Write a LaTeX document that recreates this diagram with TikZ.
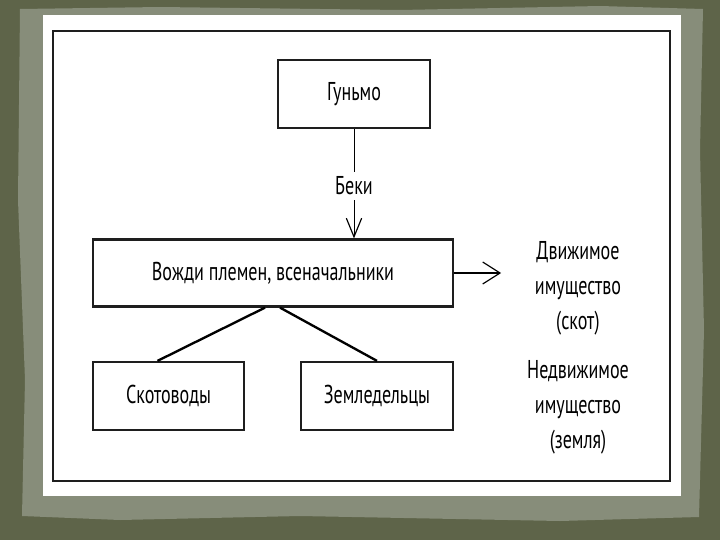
\documentclass[tikz,border=0pt]{standalone}
\usepackage{fontspec}
\setmainfont{PT Sans}[FakeStretch=0.70]
\usepackage{tikz}
\usetikzlibrary{arrows.meta,calc}
\definecolor{slidebg}{HTML}{5E6449}
\definecolor{paperedge}{HTML}{878D7A}
\definecolor{inkgrey}{HTML}{1E1E1E}

\begin{document}
\begin{tikzpicture}[
  x=0.3mm, y=-0.3mm,
  downtip/.style={-{Straight Barb[length=5.6mm, width=4.6mm, line width=1pt]}},
  sidetip/.style={-{Straight Barb[length=5.2mm, width=6.6mm, line width=1pt]}},
  box/.style={draw=inkgrey, line width=1.9pt, font=\fontsize{22}{24}\selectfont,
    inner sep=0pt},
  tag/.style={font=\fontsize{22}{24}\selectfont, inner sep=4pt},
  side/.style={align=center, font=\fontsize{22}{30}\selectfont, inner sep=0pt}
]
\useasboundingbox (0,0) rectangle (720,540);
% slide background and torn paper
\fill[slidebg] (0,0) rectangle (720,540);
\fill[paperedge] (20,9) -- (160,7) -- (400,10) -- (600,6) -- (703,9)
  -- (700,150) -- (704,330) -- (699,517) -- (560,521) -- (300,516)
  -- (120,520) -- (22,516) -- (25,380) -- (18,200) -- cycle;
\fill[white] (43,15) rectangle (681,496);
% frame
\draw[inkgrey, line width=2.2pt] (53,31) rectangle (670,481);
% the boxes
\node[box, minimum width=45.6mm, minimum height=20.4mm] (gunmo) at (354,94) {Гуньмо};
\node[tag] (beki) at (354,186) {Беки};
\node[box, minimum width=108mm, minimum height=20.1mm] (vozhdi) at (273,273)
  {Вожди племен, всеначальники};
\node[box, minimum width=45.3mm, minimum height=20.4mm] (skot) at (168.5,396) {Скотоводы};
\node[box, minimum width=45.6mm, minimum height=20.4mm] (zeml) at (377,396) {Земледельцы};
% property
\node[side] (dvizh) at (578,288) {Движимое\\ имущество\\ (скот)};
\node[side] (nedvizh) at (578,407) {Недвижимое\\ имущество\\ (земля)};
% connectors
\draw[line width=0.8pt] (gunmo) -- (beki);
\draw[downtip, line width=0.8pt] (beki) -- (beki |- vozhdi.north);
\draw[sidetip, line width=1.8pt] (vozhdi.east) -- ++(47,0) coordinate (tip);
\draw[line width=2pt] ($(vozhdi.south)+(-8,0)$) -- ($(skot.north)+(-11,0)$);
\draw[line width=2pt] ($(vozhdi.south)+(7,0)$) -- (zeml.north);
\end{tikzpicture}
\end{document}
